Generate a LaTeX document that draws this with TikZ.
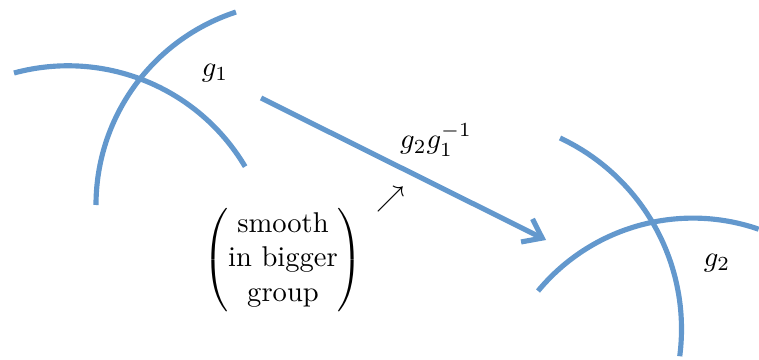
\documentclass[tikz,border=0pt]{standalone}
\usepackage{amsmath,amssymb}
\usepackage{tikz}
\usetikzlibrary{arrows.meta, positioning}

\definecolor{chartblue}{RGB}{99,152,205}

\begin{document}
\begin{tikzpicture}[
    x=0.35pt, y=0.35pt,
    chart/.style={draw=chartblue, line width=1.8pt},
    move/.style={chart, -{Straight Barb[length=6pt, width=9pt]}},
]
  \useasboundingbox (0,0) rectangle (759,-360);

  % charts around g1
  \draw[chart] (14,-73) arc[start angle=105.2, end angle=30.7, radius=206];
  \draw[chart] (96,-205) arc[start angle=180, end angle=108.1, radius=203];

  % charts around g2
  \draw[chart] (560,-138) arc[start angle=64.9, end angle=-7.4, radius=211];
  \draw[chart] (538,-291) arc[start angle=140.4, end angle=70.9, radius=201];

  \node (g1) at (215,-73) {$g_1$};
  \node (g2) at (717,-263) {$g_2$};

  \coordinate (src) at (261,-98);
  \coordinate (dst) at (546,-240);
  \draw[move] (src) -- (dst);
  \node (trans) at (436,-140) {$g_2g_1^{-1}$};

  \node (pointer) at (391,-199) {$\nearrow$};
  \node (smooth) at (283,-260) {$\begin{pmatrix}\text{smooth}\\ \text{in bigger}\\ \text{group}\end{pmatrix}$};
\end{tikzpicture}
\end{document}
